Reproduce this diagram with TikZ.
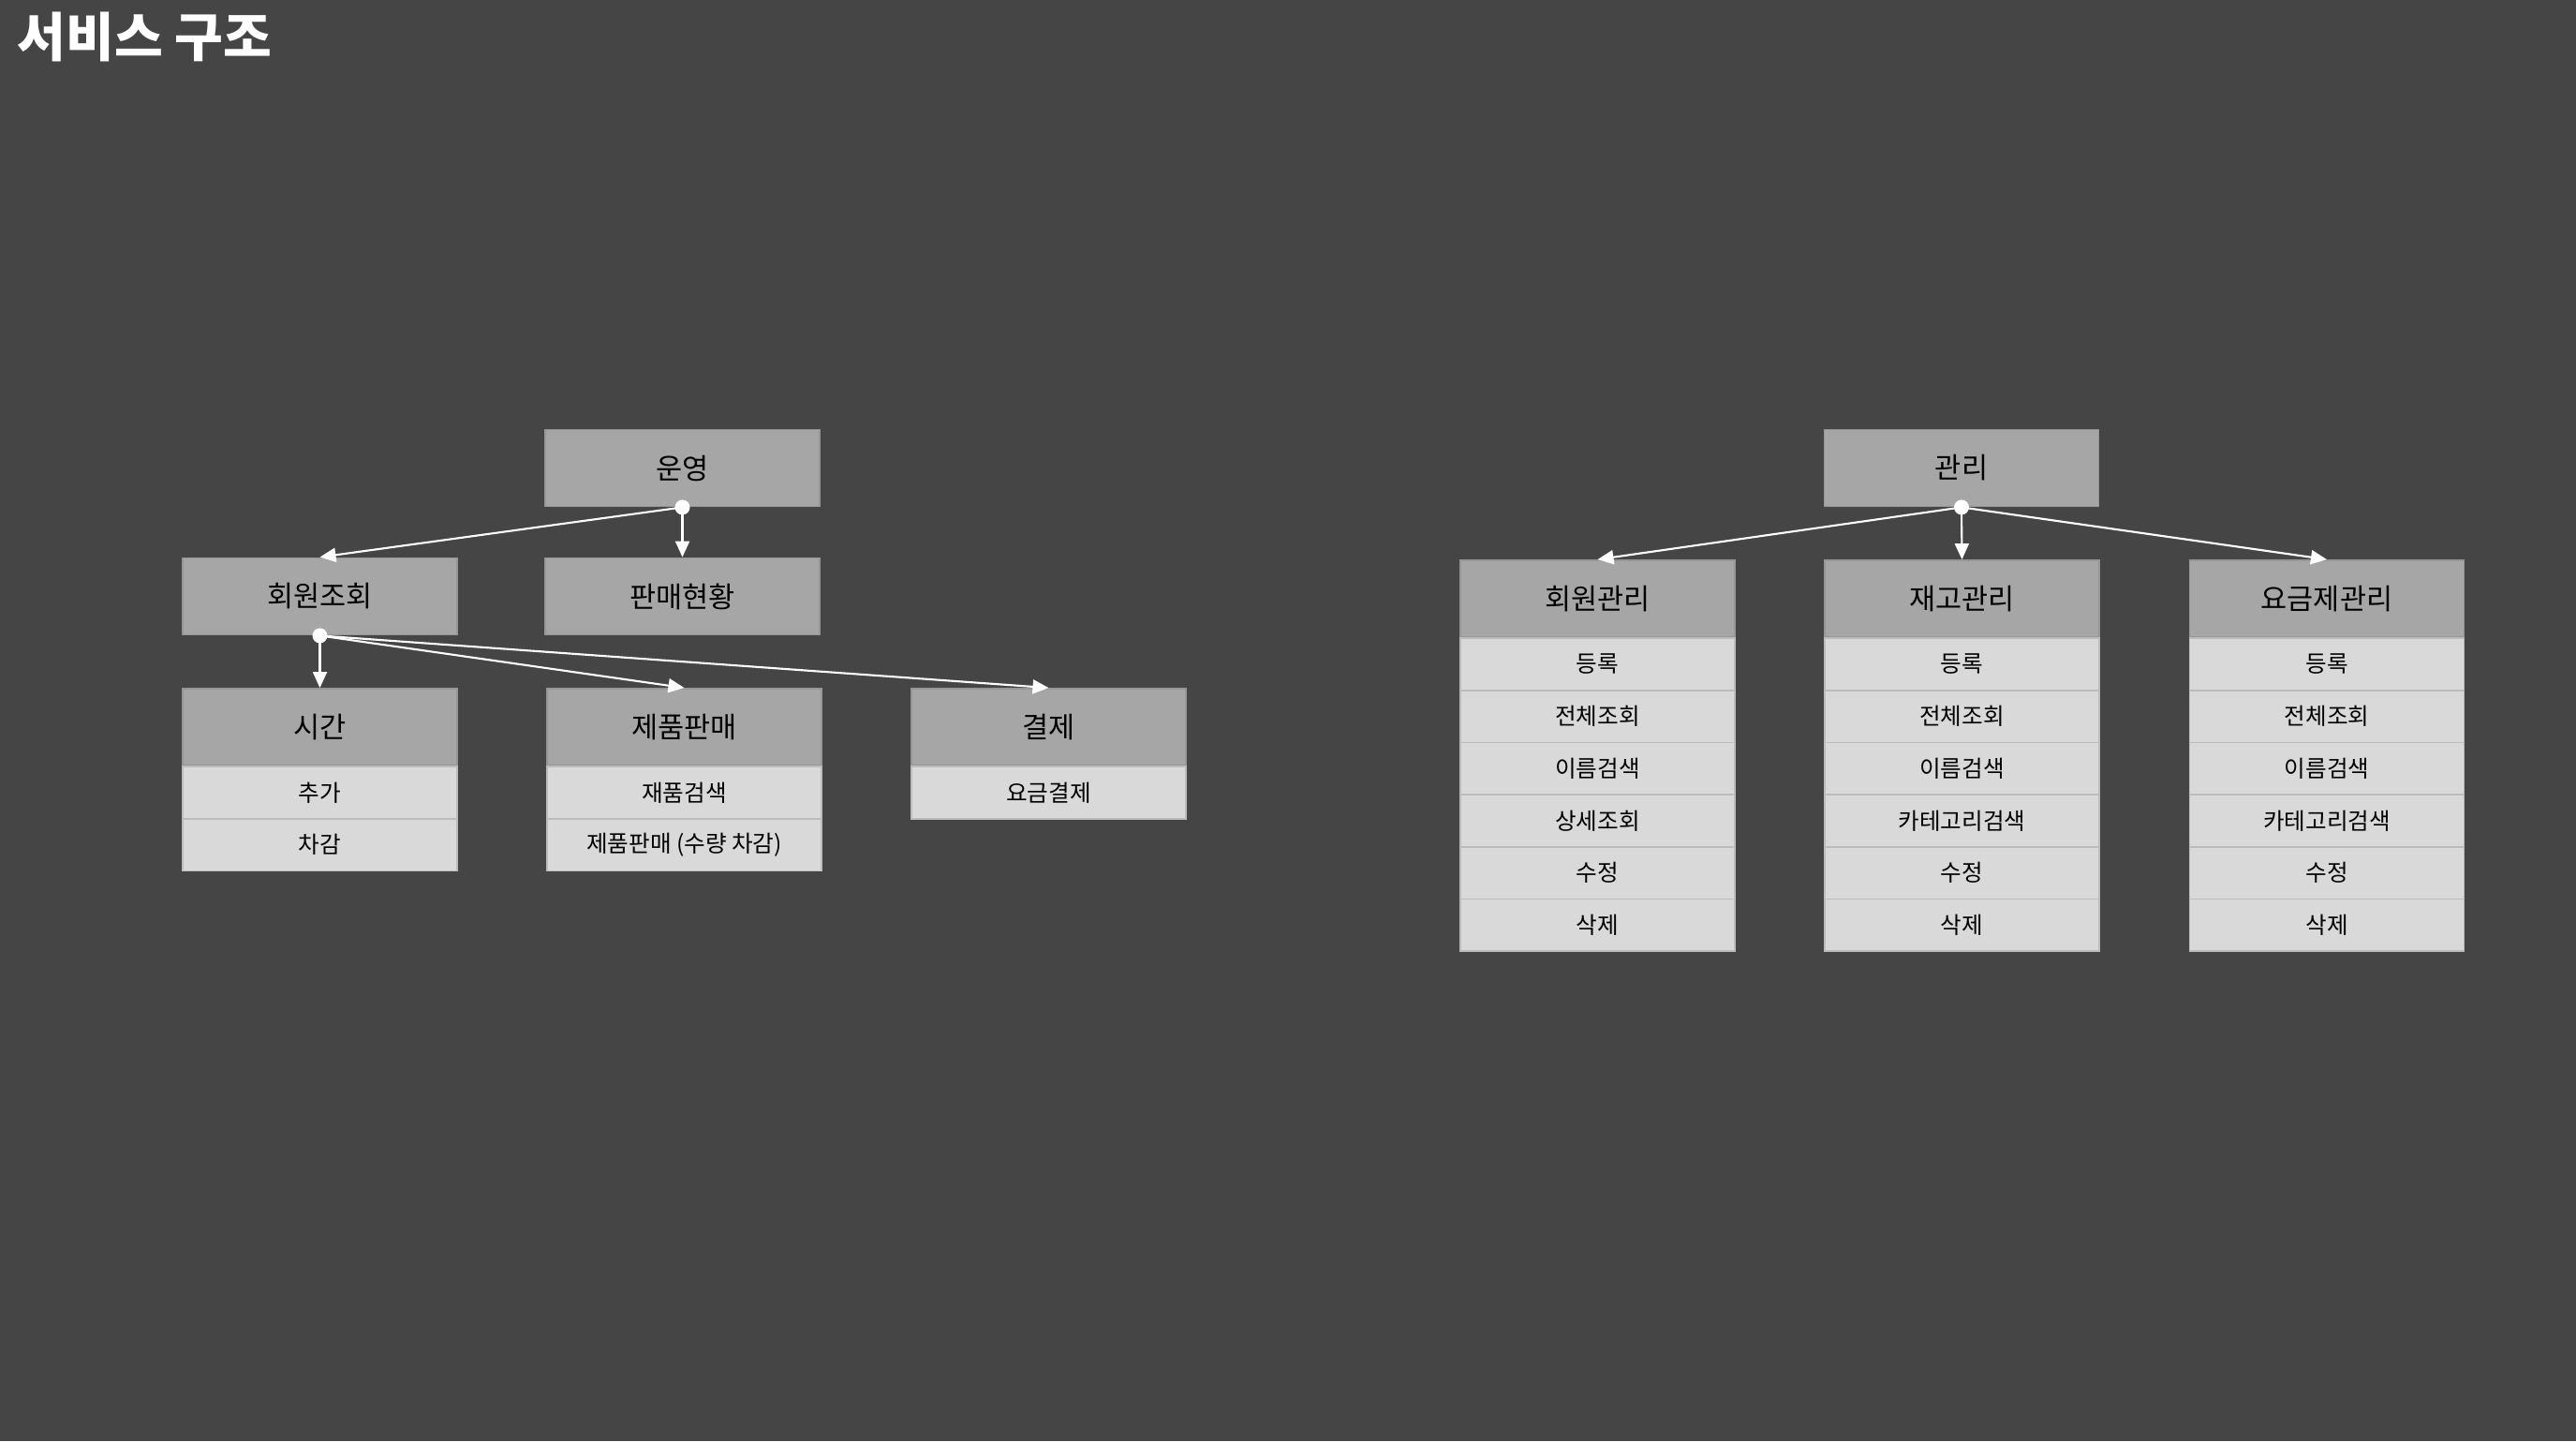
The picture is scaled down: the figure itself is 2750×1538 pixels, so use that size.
\documentclass[tikz,border=0pt]{standalone}
\usepackage{fontspec}
\usepackage{tikz}
\usetikzlibrary{arrows.meta}
\setmainfont{Noto Sans CJK KR}
\definecolor{backdrop}{RGB}{69, 69, 69}
\definecolor{headgray}{RGB}{166, 166, 166}
\definecolor{rowgray}{RGB}{217, 217, 217}
\definecolor{headline}{RGB}{150, 150, 150}
\definecolor{rowline}{RGB}{188, 188, 188}
\def\boxw{2.93cm}
\def\headh{0.82cm}
\def\rowh{0.557cm}
\def\dotr{8}

\begin{document}
\begin{tikzpicture}[x=0.01cm, y=-0.01cm, line width=0.6pt, line cap=round,
    head/.style={fill=headgray, draw=headline, line width=0.5pt, inner sep=0pt,
        minimum width=\boxw, minimum height=\headh, font=\fontsize{8.7}{10}\selectfont},
    item/.style={fill=rowgray, draw=rowline, line width=0.5pt, inner sep=0pt,
        minimum width=\boxw, minimum height=\rowh, font=\fontsize{7}{8}\selectfont},
    link/.style={white, -{Triangle[length=0.17cm, width=0.15cm]}}]

                 \fill[backdrop] (0, 0) rectangle (2750, 1538);
                 \useasboundingbox (0, 0) rectangle (2750, 1538);

                 \node[white, anchor=base west, font=\fontsize{16}{19}\selectfont\bfseries]
                 (title) at (6, 60) {서비스 구조};

                 % operation side
                 \node[head] (unyeong) at (728.5, 499.5) {운영};
                 \node[head] (hoewonjohoe) at (341.5, 636.5) {회원조회};
                 \node[head] (panmae) at (728.5, 636.5) {판매현황};

                 \node[head] (sigan) at (341.5, 776) {시간};
                 \foreach \txt [count=\i] in {추가, 차감}
                 \node[item] (sigan-\i) at (341.5, {818+(\i-0.5)*55.7}) {\txt};

                 \node[head] (jepum) at (730.5, 776) {제품판매};
                 \foreach \txt [count=\i] in {재품검색, {제품판매 (수량 차감)}}
                 \node[item] (jepum-\i) at (730.5, {818+(\i-0.5)*55.7}) {\txt};

                 \node[head] (gyeolje) at (1119.5, 776) {결제};
                 \node[item] (gyeolje-1) at (1119.5, 845.8) {요금결제};

                 \draw[link] (unyeong.south) -- (hoewonjohoe.north);
                 \draw[link] (unyeong.south) -- (panmae.north);
                 \fill[white] (unyeong.south) circle[radius=\dotr];

                 \draw[link] (hoewonjohoe.south) -- (sigan.north);
                 \draw[link] (hoewonjohoe.south) -- (jepum.north);
                 \draw[link] (hoewonjohoe.south) -- (gyeolje.north);
                 \fill[white] (hoewonjohoe.south) circle[radius=\dotr];

                 % management side
                 \node[head] (gwalli) at (2094, 499.5) {관리};

                 \node[head] (hoewongwalli) at (1705.5, 639) {회원관리};
                 \foreach \txt [count=\i] in {등록, 전체조회, 이름검색, 상세조회, 수정, 삭제}
                 \node[item] (hoewongwalli-\i) at (1705.5, {681+(\i-0.5)*55.7}) {\txt};

                 \node[head] (jaego) at (2094.5, 639) {재고관리};
                 \foreach \txt [count=\i] in {등록, 전체조회, 이름검색, 카테고리검색, 수정, 삭제}
                 \node[item] (jaego-\i) at (2094.5, {681+(\i-0.5)*55.7}) {\txt};

                 \node[head] (yogeum) at (2484, 639) {요금제관리};
                 \foreach \txt [count=\i] in {등록, 전체조회, 이름검색, 카테고리검색, 수정, 삭제}
                 \node[item] (yogeum-\i) at (2484, {681+(\i-0.5)*55.7}) {\txt};

                 \draw[link] (gwalli.south) -- (hoewongwalli.north);
                 \draw[link] (gwalli.south) -- (jaego.north);
                 \draw[link] (gwalli.south) -- (yogeum.north);
                 \fill[white] (gwalli.south) circle[radius=\dotr];

             \end{tikzpicture}
\end{document}
